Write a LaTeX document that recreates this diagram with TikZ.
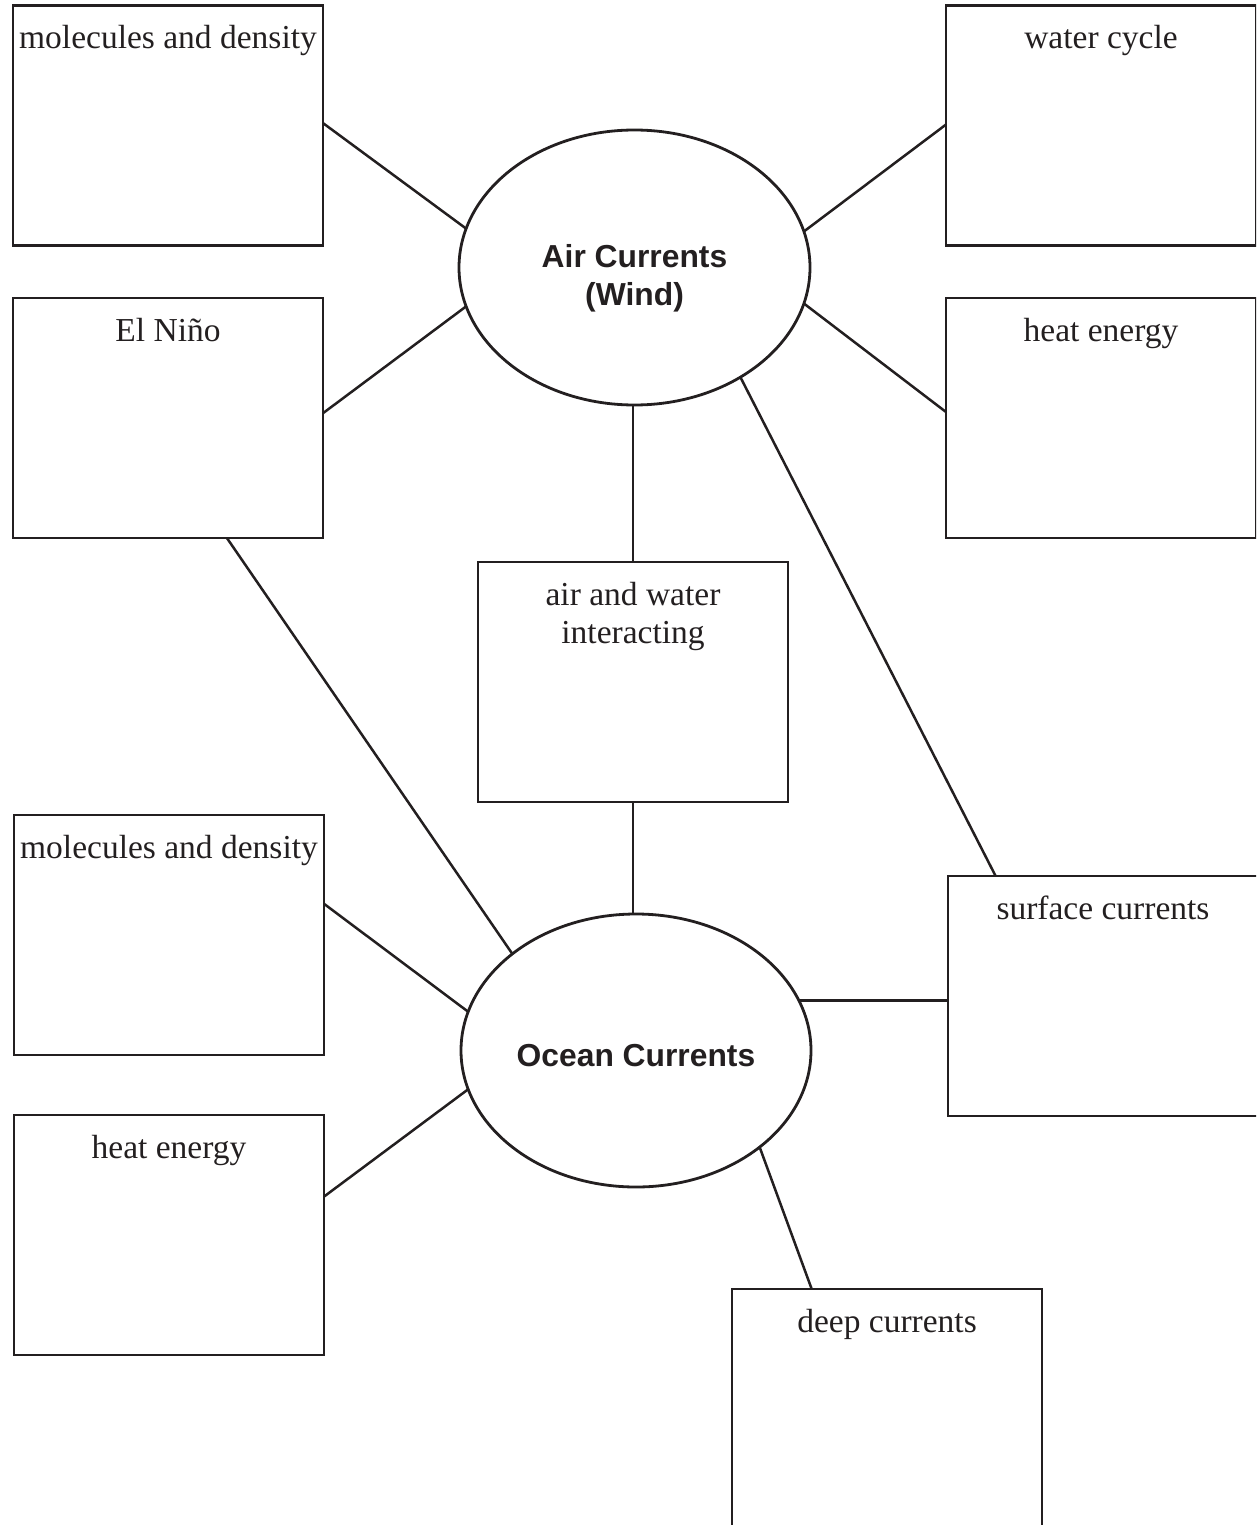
\documentclass[tikz,border=0pt]{standalone}
\usepackage{fontspec}
\setmainfont{Liberation Serif}
\newfontfamily\headfont{Liberation Sans}
\usepackage{tikz}
\usetikzlibrary{shapes, positioning, calc}
\definecolor{ink}{RGB}{35,31,32}

\begin{document}
\begin{tikzpicture}[x=1pt, y=-1pt,
    topic/.style={draw=ink, line width=2.8pt, rectangle, minimum width=310pt, minimum height=240pt, inner sep=0pt, outer sep=0pt},
    topictext/.style={text=ink, inner sep=0pt, align=center, font=\fontsize{33.5}{38}\selectfont},
    bubble/.style={draw=ink, line width=2.8pt, ellipse, inner sep=0pt, outer sep=0pt},
    bubbletext/.style={text=ink, inner sep=0pt, align=center, font=\headfont\bfseries\fontsize{31.8}{38}\selectfont},
    link/.style={draw=ink, line width=2.5pt}]
            \useasboundingbox (0,0) rectangle (1256,1525);
            \clip (0,0) rectangle (1256,1525);

            % the two main ideas
            \node[bubble, minimum width=351pt, minimum height=275pt] (air) at (634.5,267.5) {};
            \node[bubbletext] (airtext) at ([yshift=-10.5pt]air.center) {Air Currents\\(Wind)};
            \node[bubble, minimum width=350pt, minimum height=273pt] (ocean) at (636,1050.5) {};
            \node[bubbletext] (oceantext) at ([yshift=-5pt]ocean.center) {Ocean Currents};

            % boxes
            \node[topic] (md1) at (168,125.5) {};
            \node[topic] (nino) [below = 52.5pt of md1] {};
            \node[topic] (water) at (1101,125.5) {};
            \node[topic] (heatR) [below = 52.5pt of water] {};
            \node[topic] (awi) at (633,682) {};
            \node[topic] (md2) at (169,935) {};
            \node[topic] (heatL) [below = 60pt of md2] {};
            \node[topic, minimum width=340pt] (surf) at (1118,996) {};
            \node[topic] (deep) at (887,1409) {};

            \node[topictext, below = 20pt of md1.north] (md1text) {molecules and density};
            \node[topictext, below = 20pt of nino.north] (ninotext) {El Niño};
            \node[topictext, below = 20pt of water.north] (watertext) {water cycle};
            \node[topictext, below = 20pt of heatR.north] (heatRtext) {heat energy};
            \node[topictext, below = 20pt of awi.north] (awitext) {air and water\\interacting};
            \node[topictext, below = 20pt of md2.north] (md2text) {molecules and density};
            \node[topictext, below = 20pt of heatL.north] (heatLtext) {heat energy};
            \node[topictext, below = 20pt of surf.north, xshift=-15pt] (surftext) {surface currents};
            \node[topictext, below = 20pt of deep.north] (deeptext) {deep currents};

            % links to air currents
            \draw[link] ($(md1.north east)!0.49!(md1.south east)$) -- (air.167);
            \draw[link] ($(nino.north east)!0.48!(nino.south east)$) -- (air.193);
            \draw[link] ($(water.north west)!0.496!(water.south west)$) -- (air.12);
            \draw[link] ($(heatR.north west)!0.475!(heatR.south west)$) -- (air.348);
            \draw[link] (awi.north) -- (awi.north |- air.south);
            \draw[link] (air.314) -- ($(surf.north west)!0.14!(surf.north east)$);

            % links to ocean currents
            \draw[link] ($(nino.south west)!0.69!(nino.south east)$) -- (ocean.142);
            \draw[link] (awi.south) -- (awi.south |- ocean.north);
            \draw[link] ($(md2.north east)!0.37!(md2.south east)$) -- (ocean.167);
            \draw[link] ($(heatL.north east)!0.34!(heatL.south east)$) -- (ocean.193);
            \draw[link] (ocean.17) -- (ocean.17 -| surf.west);
            \draw[link] (ocean.322) -- ($(deep.north west)!0.257!(deep.north east)$);
        \end{tikzpicture}
\end{document}
